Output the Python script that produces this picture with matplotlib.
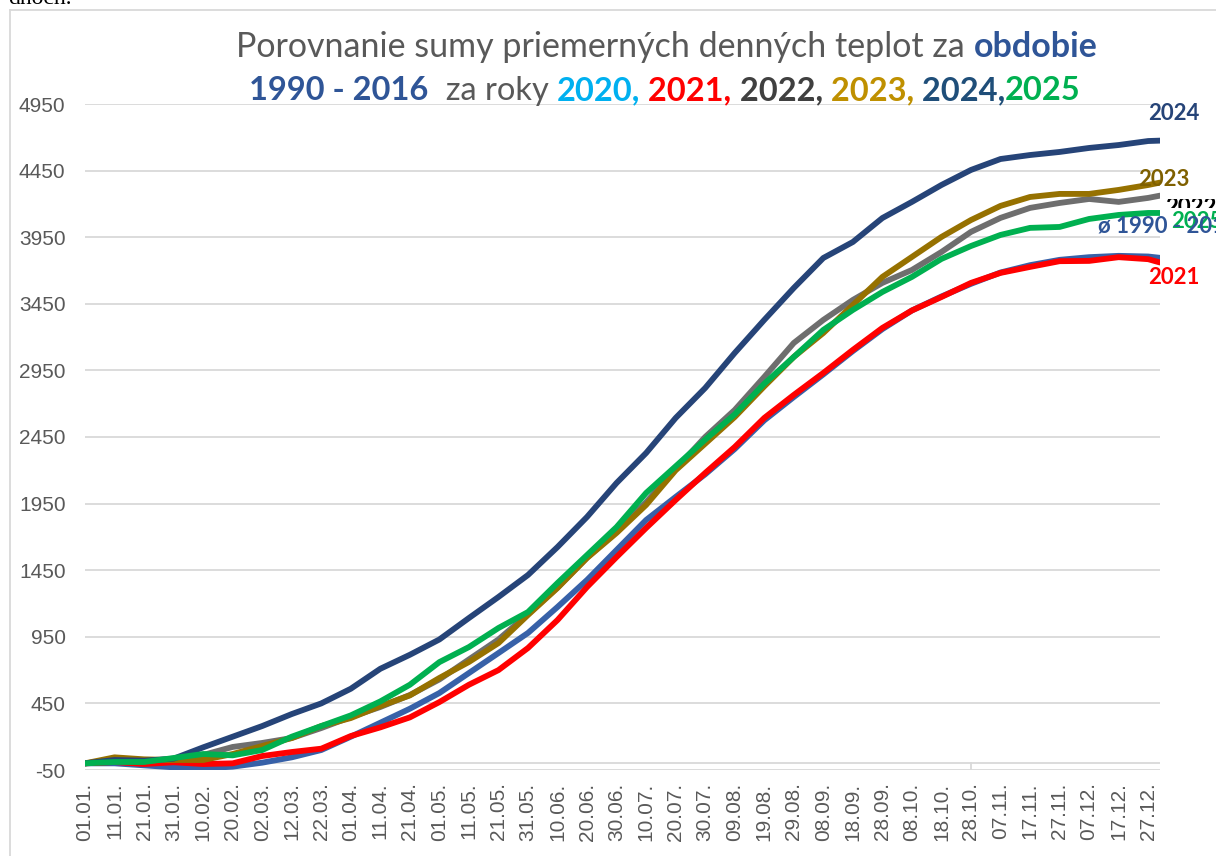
import matplotlib
matplotlib.use('Agg')
import matplotlib.pyplot as plt
from matplotlib.lines import Line2D
from matplotlib.transforms import Bbox

plt.rcParams['axes.unicode_minus'] = False

W, H = 1216, 856

# day of year for each reading (tick days + year end)
days = [1, 11, 21, 31, 41, 51, 61, 71, 81, 91, 101, 111, 121, 131, 141, 151,
        161, 171, 181, 191, 201, 211, 221, 231, 241, 251, 261, 271, 281, 291,
        301, 311, 321, 331, 341, 351, 361, 365]

tick_days = days[:-1]
tick_labels = ['01.01.', '11.01.', '21.01.', '31.01.', '10.02.', '20.02.',
               '02.03.', '12.03.', '22.03.', '01.04.', '11.04.', '21.04.',
               '01.05.', '11.05.', '21.05.', '31.05.', '10.06.', '20.06.',
               '30.06.', '10.07.', '20.07.', '30.07.', '09.08.', '19.08.',
               '29.08.', '08.09.', '18.09.', '28.09.', '08.10.', '18.10.',
               '28.10.', '07.11.', '17.11.', '27.11.', '07.12.', '17.12.',
               '27.12.']

# cumulative sums of mean daily temperatures
avg_1990_2016 = [0, 0, -15, -30, -38, -25, 5, 45, 100, 200, 305, 410, 528, 678,
                 828, 979, 1174, 1377, 1602, 1827, 2000, 2170, 2360, 2575, 2750,
                 2920, 3095, 3260, 3400, 3505, 3600, 3685, 3740, 3780, 3800,
                 3810, 3805, 3795]
y2021 = [0, 10, -5, 8, -5, 0, 55, 85, 110, 205, 270, 345, 460, 590, 700, 866,
         1076, 1324, 1549, 1767, 1977, 2180, 2375, 2593, 2766, 2931, 3104, 3269,
         3400, 3501, 3607, 3682, 3727, 3770, 3772, 3800, 3785, 3760]
y2022 = [0, 25, 20, 30, 63, 123, 153, 190, 265, 348, 423, 513, 630, 780, 930,
         1120, 1320, 1545, 1740, 1960, 2210, 2450, 2653, 2901, 3156, 3329, 3479,
         3607, 3704, 3839, 3990, 4095, 4170, 4207, 4237, 4215, 4245, 4262]
y2023 = [0, 45, 30, 25, 25, 70, 130, 190, 280, 340, 430, 510, 641, 761, 903,
         1114, 1317, 1542, 1730, 1940, 2200, 2400, 2600, 2830, 3051, 3231, 3441,
         3652, 3802, 3952, 4079, 4185, 4252, 4275, 4275, 4305, 4342, 4360]
y2024 = [0, 25, 20, 35, 120, 200, 280, 370, 450, 560, 710, 815, 930, 1091, 1249,
         1414, 1624, 1850, 2105, 2330, 2593, 2818, 3081, 3329, 3569, 3794, 3914,
         4094, 4215, 4342, 4455, 4537, 4567, 4590, 4620, 4642, 4672, 4675]
y2025 = [0, 10, 10, 40, 70, 60, 100, 200, 280, 360, 465, 590, 760, 873, 1016,
         1136, 1354, 1564, 1774, 2030, 2230, 2430, 2620, 2850, 3051, 3254, 3404,
         3539, 3652, 3787, 3884, 3967, 4020, 4027, 4087, 4117, 4132, 4132]

yticks = list(range(-50, 4951, 500))

GRID = '#D9D9D9'
GREY_TXT = '#595959'
TFONT = 'Lato'

fig = plt.figure(figsize=(W / 100, H / 100), dpi=100)
ax = fig.add_axes([85 / W, 1 - 770 / H, (1160 - 85) / W, (770 - 104) / H])

series = [
    (avg_1990_2016, '#3761A8'),
    (y2021, '#FF0000'),
    (y2022, '#6E6E6E'),
    (y2023, '#967100'),
    (y2024, '#264478'),
    (y2025, '#00B050'),
]
for vals, col in series:
    ax.plot(days, vals, color=col, lw=4.2, solid_joinstyle='round',
            solid_capstyle='round', zorder=3)

ax.set_xlim(1, 365)
ax.set_ylim(-50, 4950)
ax.set_yticks(yticks)
ax.set_xticks(tick_days)
ax.set_xticklabels(tick_labels, rotation=90, va='top', ha='center')
ax.tick_params(axis='both', length=0, labelsize=15, labelcolor=GREY_TXT)
ax.tick_params(axis='y', pad=14)
ax.tick_params(axis='x', pad=9)
for lab in ax.get_xticklabels() + ax.get_yticklabels():
    lab.set_family('Liberation Sans')
ax.grid(axis='y', color=GRID, lw=1.3, zorder=0)
ax.grid(axis='x', visible=False)
ax.axhline(0, color=GRID, lw=1.3, zorder=1)
ax.plot([301, 301], [-50, 0], color=GRID, lw=1.3, zorder=1)
for s in ax.spines.values():
    s.set_visible(False)

# outer chart border and the cut-off text above it
fig.add_artist(Line2D([10 / W, 10 / W], [0, 1 - 10 / H], color=GRID, lw=1.3))
fig.add_artist(Line2D([10 / W, 1], [1 - 10 / H, 1 - 10 / H], color=GRID, lw=1.3))
fig.text(8 / W, 1 - 4 / H, 'dňoch.', family='Liberation Serif', fontsize=17,
         va='baseline', ha='left', color='black')

renderer = fig.canvas.get_renderer()


def piece_width(s, weight, size):
    t1 = fig.text(0, 0, s + '|', fontsize=size, weight=weight, family=TFONT)
    t2 = fig.text(0, 0, '|', fontsize=size, weight=weight, family=TFONT)
    w = t1.get_window_extent(renderer).width - t2.get_window_extent(renderer).width
    t1.remove()
    t2.remove()
    return w


def rich_line(pieces, xc, yb, size):
    widths = [piece_width(s, w, size) for s, c, w in pieces]
    x = xc - sum(widths) / 2
    for (s, c, w), wd in zip(pieces, widths):
        fig.text(x / W, 1 - yb / H, s, color=c, weight=w, fontsize=size,
                 family=TFONT, va='baseline', ha='left')
        x += wd


rich_line([('Porovnanie sumy priemerných denných teplot za ', GREY_TXT, 'normal'),
           ('obdobie', '#2F5597', 'bold')], 667, 57, 24.5)
rich_line([('1990 - 2016', '#2F5597', 'bold'),
           ('  za roky ', GREY_TXT, 'normal'),
           ('2020,', '#00B0F0', 'bold'),
           (' 2021,', '#FF0000', 'bold'),
           (' 2022,', '#404040', 'bold'),
           (' 2023,', '#BF9000', 'bold'),
           (' 2024,', '#1F4E79', 'bold'),
           ('2025', '#00B050', 'bold')], 665, 100, 23.5)

# end-of-line labels
end_labels = [
    ('2024', '#264478', 1148, 113, None),
    ('2023', '#7F6000', 1138, 180, None),
    ('2022', '#000000', 1165, 208, (199, 208)),
    ('2025', '#00B050', 1171, 222, None),
    ('ø 1990 - 2016', '#2F5597', 1098, 226, None),
    ('2021', '#FF0000', 1148, 278, (260, 286)),
]
for s, col, x, y, clip in end_labels:
    t = fig.text(x / W, 1 - y / H, s, color=col, weight='bold', fontsize=16,
                 family=TFONT, va='center', ha='left', zorder=5)
    if clip:
        t.set_clip_box(Bbox.from_extents(0, H - clip[1], W, H - clip[0]))
        t.set_clip_on(True)

fig.savefig('out.png', dpi=100)
